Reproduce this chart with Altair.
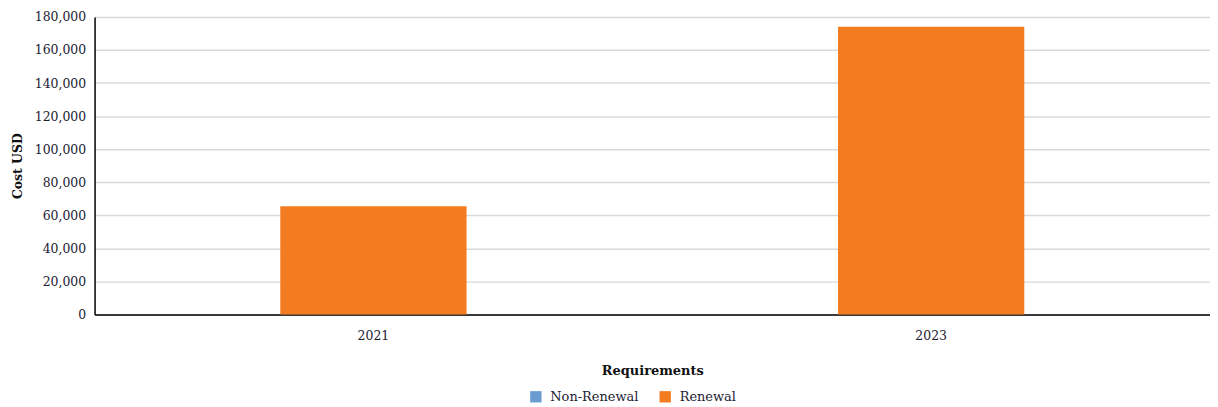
import altair as alt
import pandas as pd

years = ["2021", "2023"]
renewal_cost = [65500, 174000]
series = ["Non-Renewal", "Renewal"]
colors = ["#6a9bd1", "#f47c20"]

df = pd.DataFrame({
    "Year": years,
    "Requirements": ["Renewal"] * len(years),
    "Cost": renewal_cost,
})

FONT = "DejaVu Serif"

chart = alt.Chart(df).mark_bar().encode(
    x=alt.X("Year:N", title="Requirements",
            scale=alt.Scale(paddingInner=0.666, paddingOuter=0.333),
            axis=alt.Axis(labelAngle=0, ticks=False, domainColor="#000000",
                          domainWidth=1.5, labelPadding=15, labelFontSize=12.5,
                          labelColor="#1c2233", titleFontSize=13,
                          titleFontWeight="bold", titleColor="#111111",
                          titlePadding=23)),
    y=alt.Y("Cost:Q", title="Cost USD",
            scale=alt.Scale(domain=[0, 180000], nice=False),
            axis=alt.Axis(values=list(range(0, 180001, 20000)), format=",.0f",
                          ticks=False, domainColor="#000000", domainWidth=1.5,
                          gridColor="#d9d9d9", gridWidth=1.5, labelPadding=9,
                          labelFontSize=12.5, labelColor="#1c2233",
                          titleFontSize=12.5,
                          titleFontWeight="bold", titleColor="#111111",
                          titlePadding=10)),
    color=alt.Color("Requirements:N",
                    scale=alt.Scale(domain=series, range=colors),
                    legend=alt.Legend(orient="none", legendX=437, legendY=375,
                                      direction="horizontal", title=None,
                                      labelFontSize=13, labelColor="#1c2233",
                                      labelOffset=8,
                                      symbolType="square", symbolSize=130,
                                      symbolStrokeWidth=0, columnPadding=20)),
).properties(
    width=1121, height=299,
    padding={"left": 3, "top": 2, "right": 0, "bottom": 0},
).configure(font=FONT).configure_view(stroke=None)

chart.save("out.html", embed_options={"renderer": "svg", "actions": False})
